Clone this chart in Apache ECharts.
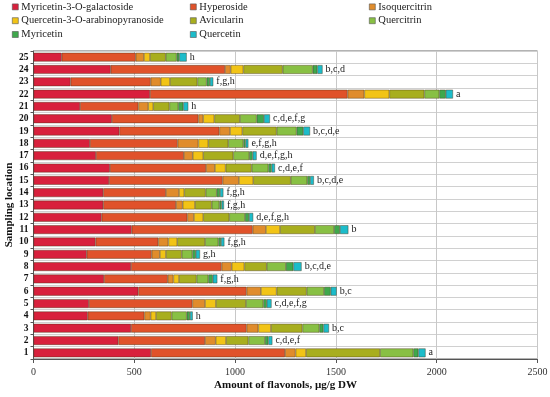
<!DOCTYPE html>
<html><head><meta charset="utf-8">
<script src="https://cdn.jsdelivr.net/npm/echarts@6/dist/echarts.min.js"></script>
<style>html,body{margin:0;padding:0;background:#fff}#c{width:550px;height:397px}</style>
</head><body><div id="c"></div>
<script>
// Sampling locations 1..25 (bottom to top)
const locations = ['1','2','3','4','5','6','7','8','9','10','11','12','13','14','15','16','17','18','19','20','21','22','23','24','25'];
const seriesNames = ['Myricetin-3-O-galactoside','Hyperoside','Isoquercitrin','Quercetin-3-O-arabinopyranoside','Avicularin','Quercitrin','Myricetin','Quercetin'];
const myrGal   = [583,421,484,269,275,520,350,484,264,308,487,338,346,346,375,379,310,280,426,389,231,578,184,383,140];
const hyperos  = [665,430,573,281,513,537,316,449,322,311,600,425,361,311,563,477,436,435,496,429,289,980,397,567,367];
const isoq     = [52,53,58,31,63,71,28,50,41,50,66,33,33,65,81,44,44,103,53,24,49,83,50,28,41];
const q3oa     = [52,51,63,27,54,78,28,63,30,44,70,46,61,26,71,53,52,49,61,55,25,124,46,63,30];
const avicul   = [367,111,156,77,149,149,87,111,78,138,173,129,83,106,186,129,149,99,170,127,80,174,136,195,78];
const quercitr = [165,82,84,75,86,86,58,95,53,66,95,78,38,55,82,83,79,75,99,83,44,74,46,149,54];
const myricet  = [25,17,20,16,17,33,22,37,17,13,29,20,11,16,14,16,17,11,33,36,25,32,16,23,13];
const quercet  = [36,20,28,14,24,30,23,41,21,17,42,21,12,17,19,17,20,14,34,30,25,36,17,26,37];
const sigLabels = ['a','c,d,e,f','b,c','h','c,d,e,f,g','b,c','f,g,h','b,c,d,e','g,h','f,g,h','b','d,e,f,g,h','f,g,h','f,g,h','b,c,d,e','c,d,e,f','d,e,f,g,h','e,f,g,h','b,c,d,e','c,d,e,f,g','h','a','f,g,h','b,c,d','h'];
const xTicks = [0,500,1000,1500,2000,2500];
// legend columns (reading order of the reference legend)
const legendCol1 = ['Myricetin-3-O-galactoside','Quercetin-3-O-arabinopyranoside','Myricetin'];
const legendCol2 = ['Hyperoside','Avicularin','Quercetin'];
const legendCol3 = ['Isoquercitrin','Quercitrin'];

const colors = ['#d8203c','#e0522a','#e08c2c','#f2c416','#a8ae1e','#88c044','#3fa84c','#1cbcca'];
const values = [myrGal,hyperos,isoq,q3oa,avicul,quercitr,myricet,quercet];
const FONT = 'Liberation Serif';

const series = values.map((arr,i)=>({
  name: seriesNames[i], type:'bar', stack:'total', data: arr, barWidth:'72%',
  itemStyle:{color:colors[i], borderColor:'rgba(70,50,20,0.7)', borderWidth:0.6},
  label: i===values.length-1 ? {show:true, position:'right', distance:3, color:'#222', fontFamily:FONT, fontSize:10,
    formatter:(p)=>sigLabels[p.dataIndex]} : {show:false},
  emphasis:{disabled:true}
}));

function mkLegend(data,left){
  return {data:data, left:left, top:0, padding:0, orient:'vertical', itemWidth:6, itemHeight:6, itemGap:0,
    icon:'rect', textStyle:{fontFamily:FONT, fontSize:10.5, color:'#222', lineHeight:13.8, padding:[0,0,0,-2]},
    itemStyle:{borderColor:'#555', borderWidth:0.6}, selectedMode:false};
}

const chart = echarts.init(document.getElementById('c'));
chart.setOption({
  animation:false,
  color: colors,
  legend:[mkLegend(legendCol1,12), mkLegend(legendCol2,190), mkLegend(legendCol3,369)],
  grid:{left:33.5, right:12.5, top:51, bottom:38, show:true, borderColor:'#666', borderWidth:1,
        containLabel:false, outerBoundsMode:'none'},
  xAxis:{type:'value', min:0, max:2500, interval:500,
    axisLine:{show:true, lineStyle:{color:'#555'}},
    axisTick:{show:true, length:4, lineStyle:{color:'#555'}},
    axisLabel:{fontFamily:FONT, fontSize:10, color:'#333', margin:8, formatter:(v)=> xTicks.includes(v)? String(v):''},
    splitLine:{show:true, lineStyle:{color:'#c8c8c8'}},
    name:'Amount of flavonols, µg/g DW', nameLocation:'middle', nameGap:21, nameMoveOverlap:false,
    nameTextStyle:{fontFamily:FONT, fontSize:11, fontWeight:'bold', color:'#111'}
  },
  yAxis:{type:'category', data:locations,
    axisLine:{show:true, lineStyle:{color:'#555'}},
    axisTick:{show:true, length:3, lineStyle:{color:'#555'}},
    axisLabel:{fontFamily:FONT, fontSize:9.5, fontWeight:'bold', color:'#111', margin:5, interval:0},
    splitLine:{show:true, lineStyle:{color:'#d0d0d0'}},
    name:'Sampling location', nameLocation:'middle', nameGap:19, nameRotate:90, nameMoveOverlap:false,
    nameTextStyle:{fontFamily:FONT, fontSize:11, fontWeight:'bold', color:'#111'}
  },
  series: series
});
</script></body></html>
